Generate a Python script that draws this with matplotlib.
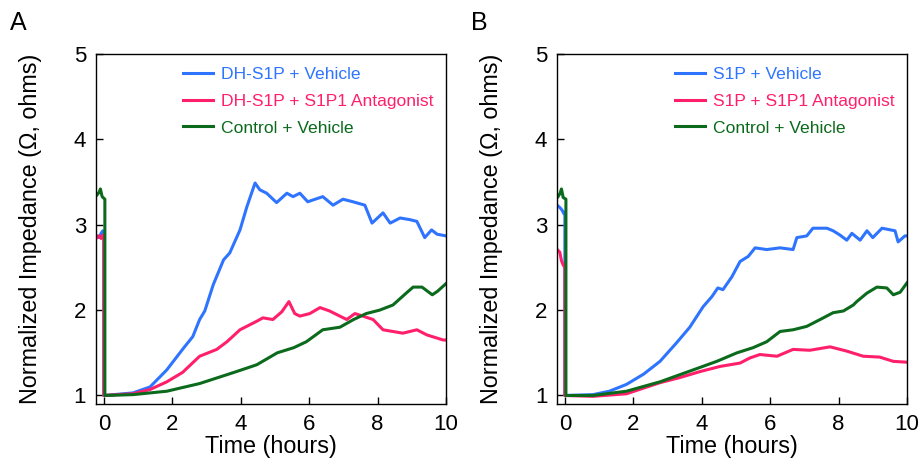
import matplotlib.pyplot as plt

plt.rcParams["font.family"] = ["Liberation Sans", "DejaVu Sans"]

BLUE = "#2F74FF"
PINK = "#FF1F6B"
GREEN = "#0B6A1C"

# ---- panel A (hours, normalized impedance) ----
a_blue_t = [-0.2, -0.14, -0.08, -0.03, 0.0, 0.0, 0.85, 1.35, 1.84, 2.3, 2.6, 2.8, 2.95,
            3.2, 3.5, 3.68, 3.98, 4.18, 4.42, 4.56, 4.76, 5.05, 5.35, 5.53, 5.73,
            5.96, 6.4, 6.7, 6.99, 7.28, 7.63, 7.84, 8.16, 8.37, 8.66, 8.95, 9.15,
            9.38, 9.58, 9.74, 10.0]
a_blue_v = [2.87, 2.85, 2.9, 2.93, 2.9, 1.0, 1.03, 1.1, 1.3, 1.54, 1.69, 1.89, 1.99,
            2.3, 2.59, 2.67, 2.94, 3.21, 3.49, 3.41, 3.37, 3.26, 3.37, 3.33, 3.37,
            3.27, 3.33, 3.23, 3.3, 3.27, 3.23, 3.02, 3.14, 3.02, 3.08, 3.06, 3.04,
            2.85, 2.94, 2.89, 2.87]

a_pink_t = [-0.2, -0.14, -0.08, -0.03, 0.0, 0.0, 0.85, 1.35, 1.84, 2.3, 2.8, 3.3, 3.6,
            3.98, 4.47, 4.65, 4.94, 5.2, 5.41, 5.58, 5.73, 6.02, 6.32, 6.6, 6.9,
            7.1, 7.34, 7.57, 7.87, 8.16, 8.45, 8.74, 9.15, 9.44, 9.92, 10.0]
a_pink_v = [2.85, 2.87, 2.84, 2.88, 2.86, 1.0, 1.02, 1.07, 1.16, 1.27, 1.46, 1.54, 1.63,
            1.77, 1.87, 1.91, 1.89, 1.98, 2.1, 1.96, 1.93, 1.96, 2.03, 1.99, 1.93,
            1.89, 1.96, 1.93, 1.89, 1.77, 1.75, 1.73, 1.77, 1.71, 1.65, 1.65]

a_green_t = [-0.2, -0.14, -0.1, -0.05, 0.03, 0.03, 0.85, 1.84, 2.8, 3.8, 4.47, 5.07, 5.55,
             5.92, 6.4, 6.9, 7.3, 7.67, 8.06, 8.45, 8.84, 9.04, 9.3, 9.6, 9.75, 10.0]
a_green_v = [3.35, 3.38, 3.42, 3.33, 3.3, 1.0, 1.01, 1.05, 1.14, 1.27, 1.36, 1.5, 1.56,
             1.63, 1.77, 1.8, 1.89, 1.96, 2.0, 2.06, 2.2, 2.27, 2.27, 2.18, 2.22, 2.31]

# ---- panel B ----
b_blue_t = [-0.2, -0.14, -0.08, -0.03, 0.0, 0.0, 0.82, 1.3, 1.8, 2.3, 2.78, 3.27, 3.65,
            4.04, 4.3, 4.47, 4.62, 4.88, 5.12, 5.36, 5.56, 5.9, 6.29, 6.67, 6.78,
            7.07, 7.25, 7.66, 7.84, 8.04, 8.24, 8.39, 8.63, 8.83, 9.0, 9.27, 9.65,
            9.74, 9.94, 10.0]
b_blue_v = [3.22, 3.2, 3.17, 3.13, 3.15, 1.0, 1.01, 1.05, 1.13, 1.25, 1.4, 1.62, 1.8,
            2.04, 2.16, 2.26, 2.24, 2.39, 2.57, 2.63, 2.73, 2.71, 2.73, 2.71, 2.85,
            2.87, 2.96, 2.96, 2.93, 2.88, 2.82, 2.9, 2.82, 2.93, 2.85, 2.96, 2.93,
            2.8, 2.87, 2.87]

b_pink_t = [-0.2, -0.15, -0.1, -0.05, 0.0, 0.0, 0.82, 1.8, 2.78, 3.36, 3.95, 4.53, 5.12,
            5.41, 5.7, 6.2, 6.67, 7.16, 7.75, 8.24, 8.72, 9.2, 9.6, 10.0]
b_pink_v = [2.7, 2.68, 2.58, 2.53, 2.5, 1.0, 0.99, 1.02, 1.15, 1.21, 1.28, 1.34, 1.38,
            1.44, 1.48, 1.46, 1.54, 1.53, 1.57, 1.52, 1.46, 1.45, 1.4, 1.39]

b_green_t = [-0.2, -0.14, -0.1, -0.05, 0.03, 0.03, 0.82, 1.8, 2.78, 3.75, 4.44, 5.03,
             5.5, 5.9, 6.29, 6.67, 7.07, 7.46, 7.84, 8.14, 8.43, 8.53, 8.83, 9.12,
             9.41, 9.6, 9.8, 10.0]
b_green_v = [3.33, 3.37, 3.42, 3.32, 3.3, 1.0, 1.0, 1.05, 1.16, 1.3, 1.4, 1.5,
             1.56, 1.63, 1.75, 1.77, 1.81, 1.89, 1.97, 1.99, 2.06, 2.1, 2.2, 2.27,
             2.26, 2.18, 2.21, 2.32]

panels = [
    ("A", 0.1042, ["DH-S1P + Vehicle", "DH-S1P + S1P1 Antagonist", "Control + Vehicle"],
     [(a_blue_t, a_blue_v), (a_pink_t, a_pink_v), (a_green_t, a_green_v)], 0.203),
    ("B", 0.6048, ["S1P + Vehicle", "S1P + S1P1 Antagonist", "Control + Vehicle"],
     [(b_blue_t, b_blue_v), (b_pink_t, b_pink_v), (b_green_t, b_green_v)], 0.292),
]

fig = plt.figure(figsize=(9.21, 4.61), dpi=100)
for letter, left, names, series, leg_x in panels:
    ax = fig.add_axes([left, 0.1236, 0.380, 0.759])
    for (t, v), col, name in zip(series, [BLUE, PINK, GREEN], names):
        ax.plot(t, v, color=col, lw=2.2, label=name)
    ax.set_xlim(-0.23, 10)
    ax.set_ylim(0.9, 5)
    ax.set_xticks([0, 2, 4, 6, 8, 10])
    ax.set_yticks([1, 2, 3, 4, 5])
    ax.tick_params(direction="in", length=5, width=1, labelsize=16, pad=7)
    for s in ax.spines.values():
        s.set_linewidth(1.0)
    ax.set_xlabel("Time (hours)", fontsize=16.8, labelpad=0)
    ax.set_ylabel("Normalized Impedance (Ω, ohms)", fontsize=16.8, labelpad=23)
    leg = ax.legend(loc="upper left", bbox_to_anchor=(leg_x, 1.009), frameon=False,
                    fontsize=12.6, handlelength=1.7, handletextpad=0.5, labelspacing=0.66)
    for txt, col in zip(leg.get_texts(), [BLUE, PINK, GREEN]):
        txt.set_color(col)
    fig.text(left - 0.093, 0.935, letter, fontsize=18)

fig.savefig("out.png", dpi=100)
